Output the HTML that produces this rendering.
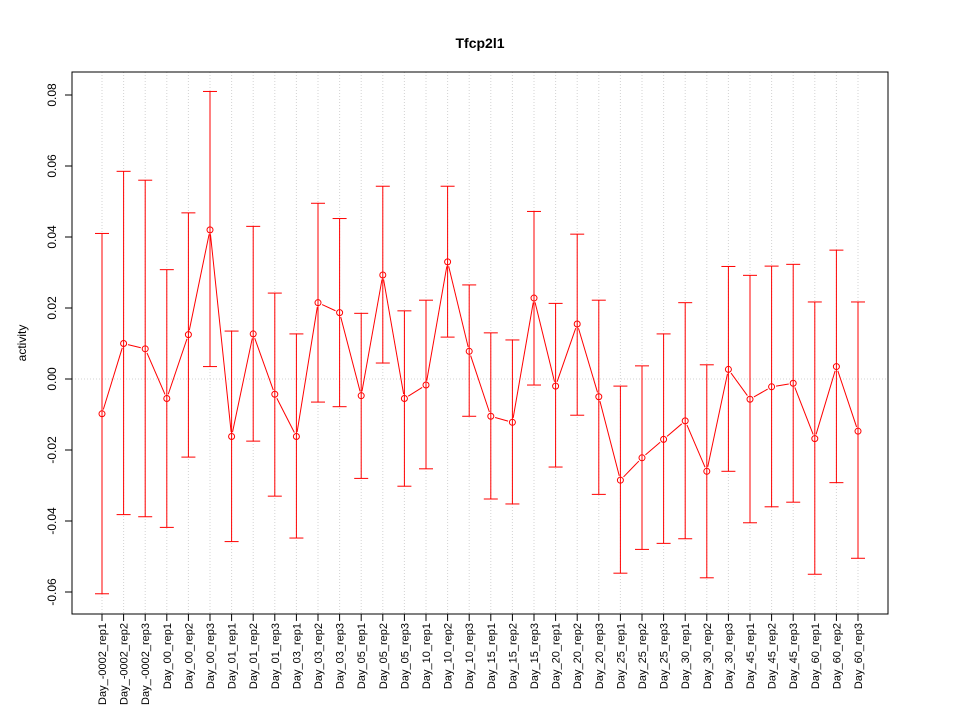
<!DOCTYPE html>
<html><head><meta charset="utf-8"><style>body{margin:0;background:#fff}svg{display:block;font-family:"Liberation Sans",sans-serif}</style></head>
<body>
<svg id="c" width="960" height="720"></svg>
<script>
const categories=["Day_-0002_rep1","Day_-0002_rep2","Day_-0002_rep3","Day_00_rep1","Day_00_rep2","Day_00_rep3","Day_01_rep1","Day_01_rep2","Day_01_rep3","Day_03_rep1","Day_03_rep2","Day_03_rep3","Day_05_rep1","Day_05_rep2","Day_05_rep3","Day_10_rep1","Day_10_rep2","Day_10_rep3","Day_15_rep1","Day_15_rep2","Day_15_rep3","Day_20_rep1","Day_20_rep2","Day_20_rep3","Day_25_rep1","Day_25_rep2","Day_25_rep3","Day_30_rep1","Day_30_rep2","Day_30_rep3","Day_45_rep1","Day_45_rep2","Day_45_rep3","Day_60_rep1","Day_60_rep2","Day_60_rep3"];
const means=[-0.0098,0.010,0.0085,-0.0055,0.0125,0.042,-0.0162,0.0127,-0.0043,-0.0162,0.0215,0.0187,-0.0047,0.0293,-0.0055,-0.0017,0.033,0.0078,-0.0105,-0.0122,0.0228,-0.002,0.0155,-0.005,-0.0285,-0.0222,-0.017,-0.0118,-0.026,0.0027,-0.0057,-0.0022,-0.0012,-0.0168,0.0035,-0.0147];
const upper=[0.041,0.0585,0.056,0.0308,0.0468,0.081,0.0135,0.043,0.0242,0.0127,0.0495,0.0452,0.0185,0.0543,0.0192,0.0222,0.0543,0.0265,0.013,0.011,0.0472,0.0213,0.0408,0.0222,-0.002,0.0037,0.0127,0.0215,0.004,0.0317,0.0292,0.0318,0.0323,0.0217,0.0363,0.0217];
const lower=[-0.0605,-0.0382,-0.0388,-0.0418,-0.022,0.0035,-0.0458,-0.0175,-0.033,-0.0448,-0.0065,-0.0078,-0.028,0.0045,-0.0302,-0.0253,0.0118,-0.0105,-0.0338,-0.0352,-0.0017,-0.0248,-0.0102,-0.0325,-0.0547,-0.048,-0.0463,-0.045,-0.056,-0.026,-0.0405,-0.036,-0.0347,-0.055,-0.0292,-0.0505];
const yTicks=[-0.06,-0.04,-0.02,0.00,0.02,0.04,0.06,0.08];
const yTickLabels=["-0.06","-0.04","-0.02","0.00","0.02","0.04","0.06","0.08"];
const svg=document.getElementById('c');const NS="http://www.w3.org/2000/svg";
function mk(t,a,p){const e=document.createElementNS(NS,t);for(const k in a)e.setAttribute(k,a[k]);(p||svg).appendChild(e);return e;}
const X=i=>102+i*(756/(categories.length-1));
const Y=v=>379-v*3550;
const L=72,R=888,T=72,B=614;
const grid=mk('g',{});
categories.forEach((c,i)=>{mk('line',{x1:X(i),x2:X(i),y1:T,y2:B,stroke:'#d3d3d3','stroke-dasharray':'1,2'},grid);});
mk('line',{x1:L,x2:R,y1:Y(0),y2:Y(0),stroke:'#d3d3d3','stroke-dasharray':'1,2'},grid);
const box=mk('rect',{x:L,y:T,width:R-L,height:B-T,fill:'none',stroke:'#000'});
const t=mk('text',{x:480,y:48,'text-anchor':'middle','font-size':14,'font-weight':'bold'});t.textContent='Tfcp2l1';
const yt=mk('text',{transform:'translate(26,343) rotate(-90)','text-anchor':'middle','font-size':12});yt.textContent='activity';
const ya=mk('g',{});
yTicks.forEach((v,i)=>{mk('line',{x1:L,x2:L-7,y1:Y(v),y2:Y(v),stroke:'#000'},ya);const tx=mk('text',{transform:`translate(56,${Y(v)}) rotate(-90)`,'text-anchor':'middle','font-size':12},ya);tx.textContent=yTickLabels[i];});
mk('line',{x1:L,x2:L,y1:Y(-0.06),y2:Y(0.08),stroke:'#000'},ya);
const xa=mk('g',{});
mk('line',{x1:X(0),x2:X(categories.length-1),y1:B,y2:B,stroke:'#000'},xa);
categories.forEach((c,i)=>{mk('line',{x1:X(i),x2:X(i),y1:B,y2:B+7,stroke:'#000'},xa);const tx=mk('text',{transform:`translate(${X(i)+4},623) rotate(-90)`,'text-anchor':'end','font-size':11},xa);tx.textContent=c;});
const s=mk('g',{});
categories.forEach((c,i)=>{mk('line',{x1:X(i),x2:X(i),y1:Y(upper[i]),y2:Y(lower[i]),stroke:'#ff0000'},s);
mk('line',{x1:X(i)-7,x2:X(i)+7,y1:Y(upper[i]),y2:Y(upper[i]),stroke:'#ff0000'},s);
mk('line',{x1:X(i)-7,x2:X(i)+7,y1:Y(lower[i]),y2:Y(lower[i]),stroke:'#ff0000'},s);});
for(let i=0;i<means.length-1;i++){const x1=X(i),y1=Y(means[i]),x2=X(i+1),y2=Y(means[i+1]);const dx=x2-x1,dy=y2-y1,d=Math.hypot(dx,dy);if(d<10)continue;const g=4.5/d;
mk('line',{x1:x1+dx*g,y1:y1+dy*g,x2:x2-dx*g,y2:y2-dy*g,stroke:'#ff0000'},s);}
means.forEach((v,i)=>{const p=mk('circle',{cx:X(i),cy:Y(v),r:3,fill:'none',stroke:'#ff0000'},s);});
</script>
</body></html>
